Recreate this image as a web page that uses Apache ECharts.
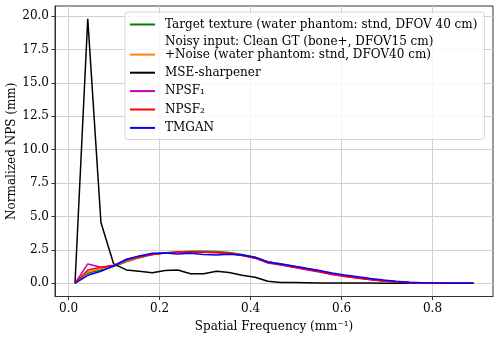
<!DOCTYPE html>
<html>
<head>
<meta charset="utf-8">
<script src="https://cdn.jsdelivr.net/npm/echarts@6/dist/echarts.min.js"></script>
<style>
  html, body { margin: 0; padding: 0; background: #fff; }
  #main { width: 500px; height: 339px; }
</style>
</head>
<body>
<div id="main"></div>
<script>
// spatial frequency bins (mm^-1)
const freq = [0.014, 0.042, 0.071, 0.099, 0.127, 0.155, 0.184, 0.212, 0.240, 0.268, 0.297, 0.325,
  0.353, 0.381, 0.410, 0.438, 0.466, 0.494, 0.523, 0.551, 0.579, 0.607, 0.636, 0.664,
  0.692, 0.720, 0.749, 0.777, 0.805, 0.834, 0.862, 0.890];

const targetNps = [0, 0.75, 1.0, 1.25, 1.6, 1.9, 2.15, 2.28, 2.35, 2.4, 2.4, 2.38, 2.3, 2.15, 1.95, 1.62,
  1.46, 1.28, 1.1, 0.92, 0.72, 0.56, 0.43, 0.31, 0.2, 0.12, 0.06, 0.03, 0.01, 0.01, 0, 0];
const noisyNps = [0, 0.85, 1.1, 1.3, 1.65, 1.95, 2.15, 2.27, 2.33, 2.36, 2.35, 2.32, 2.25, 2.1, 1.9, 1.57,
  1.42, 1.24, 1.06, 0.9, 0.7, 0.54, 0.41, 0.29, 0.19, 0.11, 0.05, 0.02, 0.01, 0, 0, 0];
const mseNps = [0, 19.8, 4.55, 1.45, 1.0, 0.9, 0.78, 0.95, 1.0, 0.72, 0.72, 0.9, 0.8, 0.6, 0.45, 0.15,
  0.06, 0.05, 0.04, 0.03, 0.03, 0.02, 0.02, 0.02, 0.01, 0.01, 0.01, 0.01, 0, 0, 0, 0];
const npsf1Nps = [0, 1.45, 1.2, 1.3, 1.72, 1.98, 2.15, 2.27, 2.33, 2.35, 2.33, 2.29, 2.23, 2.08, 1.88, 1.52,
  1.37, 1.2, 1.02, 0.85, 0.65, 0.5, 0.38, 0.26, 0.16, 0.09, 0.04, 0.02, 0.01, 0, 0, 0];
const npsf2Nps = [0, 1.0, 1.2, 1.35, 1.75, 2.0, 2.15, 2.27, 2.33, 2.36, 2.33, 2.3, 2.25, 2.1, 1.9, 1.55,
  1.4, 1.22, 1.05, 0.88, 0.68, 0.52, 0.4, 0.28, 0.18, 0.1, 0.05, 0.02, 0.01, 0, 0, 0];
const tmganNps = [0, 0.6, 0.9, 1.3, 1.8, 2.05, 2.25, 2.27, 2.2, 2.25, 2.15, 2.12, 2.18, 2.12, 1.95, 1.6,
  1.45, 1.3, 1.12, 0.96, 0.77, 0.62, 0.48, 0.36, 0.25, 0.15, 0.08, 0.04, 0.02, 0.01, 0, 0];

const xTicks = [0.0, 0.2, 0.4, 0.6, 0.8];
const yTicks = [0.0, 2.5, 5.0, 7.5, 10.0, 12.5, 15.0, 17.5, 20.0];

const names = [
  'Target texture (water phantom: stnd, DFOV 40 cm)',
  'Noisy input: Clean GT (bone+, DFOV15 cm)\n+Noise (water phantom: stnd, DFOV40 cm)',
  'MSE-sharpener',
  'NPSF₁',
  'NPSF₂',
  'TMGAN'
];
const colors = ['#008000', '#ff7f0e', '#000000', '#bf00bf', '#ff0000', '#0000ff'];
const values = [targetNps, noisyNps, mseNps, npsf1Nps, npsf2Nps, tmganNps];

const font = 'DejaVu Serif';
const spine = '#333';
const gridCol = '#d0d0d0';
// legend icons: 25px line inside a 30x14 box (the empty moveTo points stretch the box)
const lineIcon = 'path://M0,0 M0,6 L25,6 L25,8 L0,8 Z M30,14';
const lowLineIcon = 'path://M0,0 M0,12 L25,12 L25,14 L0,14 Z M30,14';

const series = values.map((vals, k) => ({
  name: names[k],
  type: 'line',
  symbol: 'none',
  data: vals.map((v, i) => [freq[i], v]),
  lineStyle: { color: colors[k], width: 1.5 },
  itemStyle: { color: colors[k] }
}));

const chart = echarts.init(document.getElementById('main'));
chart.setOption({
  animation: false,
  grid: {
    left: 55, right: 7, top: 6, bottom: 42.5,
    outerBoundsMode: 'none',
    containLabel: false,
    show: true, borderColor: spine, borderWidth: 1, backgroundColor: 'transparent'
  },
  legend: {
    orient: 'vertical',
    left: 125, top: 12,
    icon: lineIcon,
    itemWidth: 30, itemHeight: 14, itemGap: 4.4,
    padding: [5.5, 7, 4.5, 5],
    backgroundColor: 'rgba(255,255,255,0.8)',
    borderColor: '#d5d5d5', borderWidth: 1, borderRadius: 3,
    textStyle: { fontFamily: font, fontSize: 12, color: '#000', lineHeight: 12.7 },
    data: names.map((n, k) => (k === 1 ? { name: n, icon: lowLineIcon } : { name: n }))
  },
  xAxis: {
    type: 'value',
    min: -0.03, max: 0.933,
    name: 'Spatial Frequency (mm⁻¹)',
    nameLocation: 'middle', nameGap: 24.5, nameMoveOverlap: false,
    nameTextStyle: { fontFamily: font, fontSize: 12, color: '#000' },
    axisLine: { onZero: false, lineStyle: { color: spine, width: 1 } },
    axisTick: { show: true, length: 3.5, lineStyle: { color: spine }, customValues: xTicks },
    axisLabel: {
      fontFamily: font, fontSize: 12, color: '#000', margin: 6,
      customValues: xTicks,
      formatter: v => v.toFixed(1)
    },
    splitLine: { show: true, lineStyle: { color: gridCol, width: 1 } }
  },
  yAxis: {
    type: 'value',
    min: -0.99, max: 20.76,
    name: 'Normalized NPS (mm)',
    nameLocation: 'middle', nameGap: 37.5, nameMoveOverlap: false,
    nameTextStyle: { fontFamily: font, fontSize: 12, color: '#000' },
    axisLine: { show: true, onZero: false, lineStyle: { color: spine, width: 1 } },
    axisTick: { show: true, length: 3.5, lineStyle: { color: spine }, customValues: yTicks },
    axisLabel: {
      fontFamily: font, fontSize: 12, color: '#000', margin: 6,
      customValues: yTicks,
      formatter: v => v.toFixed(1)
    },
    splitLine: { show: true, lineStyle: { color: gridCol, width: 1 } }
  },
  series: series
});
</script>
</body>
</html>
